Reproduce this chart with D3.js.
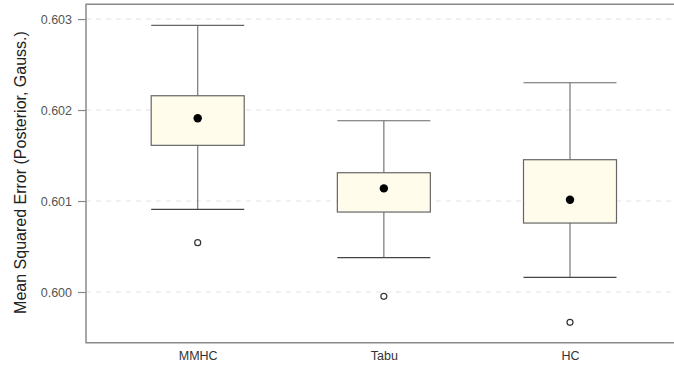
<!DOCTYPE html>
<html><head><meta charset="utf-8">
<script src="https://cdn.jsdelivr.net/npm/d3@7"></script>
<style>html,body{margin:0;background:#fff;overflow:hidden;}svg{display:block;overflow:hidden;font-family:"Liberation Sans",Arial,sans-serif;}</style>
</head><body><svg id="c" width="674" height="365"></svg>
<script>
const categories = ["MMHC","Tabu","HC"];
const whiskerLow  = [0.600909, 0.600377, 0.600161];
const q1          = [0.601612, 0.600879, 0.600758];
const q3          = [0.602157, 0.601311, 0.601454];
const whiskerHigh = [0.602930, 0.601882, 0.602300];
const means       = [0.601909, 0.601139, 0.601014];
const outliers    = [[0.600542],[0.599953],[0.599667]];
const yTicks = [0.600, 0.601, 0.602, 0.603];
const yLabel = "Mean Squared Error (Posterior, Gauss.)";

const svg = d3.select("#c");
const L = 86, T = 4.3, B = 342.7, R = 674;
const y = d3.scaleLinear().domain([0.599443, 0.603162]).range([B, T]);
const x = d3.scalePoint().domain(categories).range([197.7, 570]);
const bw = 93;
const font = "Liberation Sans, Arial, sans-serif";

// gridlines
svg.append("g").selectAll("line").data(yTicks).join("line")
  .attr("x1", L).attr("x2", R).attr("y1", d=>y(d)).attr("y2", d=>y(d))
  .attr("stroke", "#e2e2e2").attr("stroke-width", 1).attr("stroke-dasharray", "5,5");

// y axis
const ya = svg.append("g").attr("transform", `translate(${L},0)`)
  .call(d3.axisLeft(y).tickValues(yTicks).tickFormat(d3.format(".3f")).tickSize(8).tickPadding(6));
ya.select(".domain").remove();
ya.selectAll(".tick line").attr("stroke", "#888").attr("stroke-width", 1.2);
ya.selectAll(".tick text").attr("fill", "#555").attr("font-size", 12.5).attr("font-family", font);

// x axis labels
const xa = svg.append("g").attr("transform", `translate(0,${B})`)
  .call(d3.axisBottom(x).tickSize(0).tickPadding(8));
xa.select(".domain").remove();
xa.selectAll(".tick text").attr("fill", "#333").attr("font-size", 12.5).attr("font-family", font);

// frame (left, top, bottom; right side lies beyond the picture)
svg.append("path").attr("d", `M${R},${T}H${L}V${B}H${R}`)
  .attr("fill", "none").attr("stroke", "#8a8a8a").attr("stroke-width", 1.5);

// boxes
const data = categories.map((c,i)=>({c, lo: whiskerLow[i], q1: q1[i], q3: q3[i], hi: whiskerHigh[i], m: means[i], out: outliers[i]}));
const g = svg.append("g").selectAll("g").data(data).join("g");
g.append("line").attr("x1", d=>x(d.c)).attr("x2", d=>x(d.c)).attr("y1", d=>y(d.hi)).attr("y2", d=>y(d.q3)).attr("stroke", "#777").attr("stroke-width", 1.2);
g.append("line").attr("x1", d=>x(d.c)).attr("x2", d=>x(d.c)).attr("y1", d=>y(d.q1)).attr("y2", d=>y(d.lo)).attr("stroke", "#777").attr("stroke-width", 1.2);
g.append("line").attr("x1", d=>x(d.c)-bw/2).attr("x2", d=>x(d.c)+bw/2).attr("y1", d=>y(d.hi)).attr("y2", d=>y(d.hi)).attr("stroke", "#666").attr("stroke-width", 1.2);
g.append("line").attr("x1", d=>x(d.c)-bw/2).attr("x2", d=>x(d.c)+bw/2).attr("y1", d=>y(d.lo)).attr("y2", d=>y(d.lo)).attr("stroke", "#444").attr("stroke-width", 1.2);
g.append("rect").attr("x", d=>x(d.c)-bw/2).attr("width", bw).attr("y", d=>y(d.q3)).attr("height", d=>y(d.q1)-y(d.q3))
  .attr("fill", "#fffcec").attr("stroke", "#666").attr("stroke-width", 1.2);
g.append("circle").attr("cx", d=>x(d.c)).attr("cy", d=>y(d.m)).attr("r", 4.2).attr("fill", "#000");
g.selectAll("circle.o").data(d=>d.out.map(v=>({c:d.c, v}))).join("circle").attr("class","o")
  .attr("cx", d=>x(d.c)).attr("cy", d=>y(d.v)).attr("r", 3).attr("fill", "#fff").attr("stroke", "#333").attr("stroke-width", 1.2);

// y label
svg.append("text").attr("transform", `translate(26,${(T+B)/2 - 1}) rotate(-90)`).attr("text-anchor", "middle")
  .attr("font-size", 16).attr("font-family", font).attr("fill", "#222").text(yLabel);
</script></body></html>
